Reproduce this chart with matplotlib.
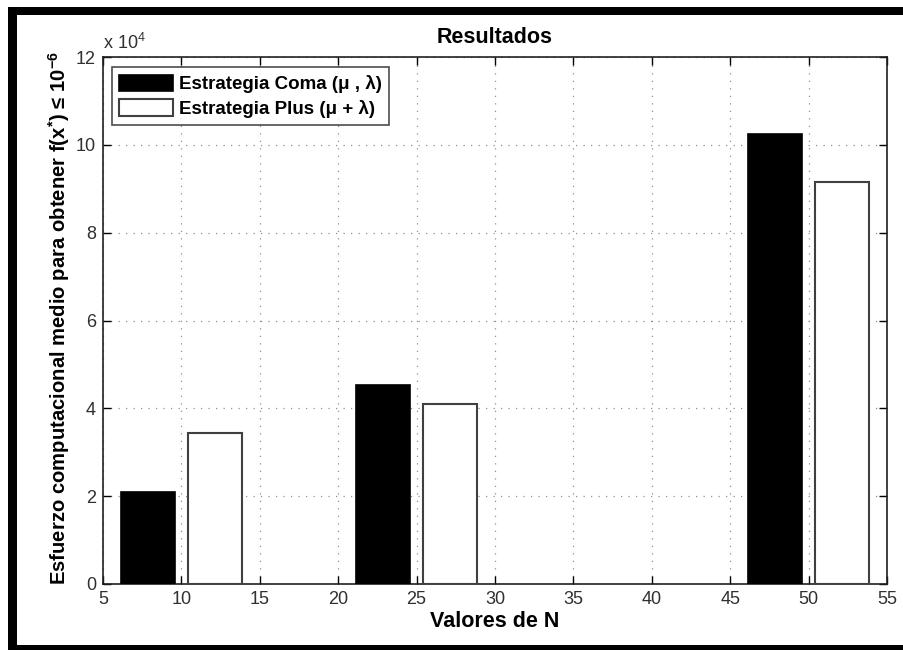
import numpy as np
import matplotlib
matplotlib.use("Agg")
import matplotlib.pyplot as plt
from matplotlib.patches import Rectangle
from matplotlib.ticker import FuncFormatter

plt.rcParams['font.family'] = ['Liberation Sans', 'DejaVu Sans']
plt.rcParams['mathtext.fontset'] = 'custom'
plt.rcParams['mathtext.rm'] = 'Liberation Sans'
plt.rcParams['mathtext.bf'] = 'Liberation Sans:bold'

# data
n_values = [10, 25, 50]
coma = [21000, 45300, 102400]
plus = [34300, 40900, 91600]
series_names = ['Estrategia Coma (μ , λ)', 'Estrategia Plus (μ + λ)']

# MATLAB grouped bar geometry
spacing = 15
group_w = min(0.8, 2 / 3.5) * spacing
bar_w = group_w / 2 * 0.8
offsets = [-group_w / 4, group_w / 4]

W, H = 904, 650
fig = plt.figure(figsize=(W / 100, H / 100), dpi=100)
ax = fig.add_axes([103 / W, 66 / H, 784 / W, 527 / H])

x = np.array(n_values, dtype=float)
ax.bar(x + offsets[0], coma, width=bar_w, color='black', edgecolor='black',
       linewidth=1.2, label=series_names[0], zorder=3)
ax.bar(x + offsets[1], plus, width=bar_w, color='white', edgecolor='#404040',
       linewidth=1.5, label=series_names[1], zorder=3)

ax.set_xlim(5, 55)
ax.set_ylim(0, 120000)
ax.set_xticks(np.arange(5, 56, 5))
ax.set_yticks(np.arange(0, 120001, 20000))
ax.yaxis.set_major_formatter(FuncFormatter(lambda v, p: f'{v / 1e4:g}'))

ax.grid(True, linestyle=(0, (1, 5)), color='#909090', linewidth=0.9, zorder=0)
ax.tick_params(direction='in', length=6, width=1, top=True, right=True,
               labelsize=13, labelcolor='#303030', pad=5)
for s in ax.spines.values():
    s.set_linewidth(1.2)
    s.set_color('#202020')

ax.text(0, 1.008, r'x 10$^4$', transform=ax.transAxes, ha='left', va='bottom',
        fontsize=13, color='#303030')

ax.set_title('Resultados', fontsize=15.5, fontweight='bold', pad=10)
ax.set_xlabel('Valores de N', fontsize=15.5, fontweight='bold', labelpad=2)
ax.set_ylabel(r'Esfuerzo computacional medio para obtener f(x$^{\mathbf{*}}$) ≤ 10$^{\mathbf{-6}}$',
              fontsize=14.6, fontweight='bold')
ax.yaxis.set_label_coords(-0.040, 0.505)

leg = ax.legend(loc='upper left', bbox_to_anchor=(0.011, 0.981),
                prop={'weight': 'bold', 'size': 13.5}, frameon=True, fancybox=False,
                edgecolor='#202020', handlelength=2.9, handleheight=1.0,
                borderpad=0.4, labelspacing=0.3, handletextpad=0.3,
                borderaxespad=0)
leg.get_frame().set_linewidth(1.2)

# thick black frame (left, top, bottom bands; right side cut off)
fig.patches.append(Rectangle((8 / W, 0), 9 / W, 1 - 7 / H, transform=fig.transFigure,
                             facecolor='black', edgecolor='none'))
fig.patches.append(Rectangle((8 / W, 1 - 15 / H), (W - 8) / W, 8 / H,
                             transform=fig.transFigure, facecolor='black', edgecolor='none'))
fig.patches.append(Rectangle((8 / W, 0), (W - 8) / W, 5 / H, transform=fig.transFigure,
                             facecolor='black', edgecolor='none'))

fig.savefig('out.png', dpi=100)
